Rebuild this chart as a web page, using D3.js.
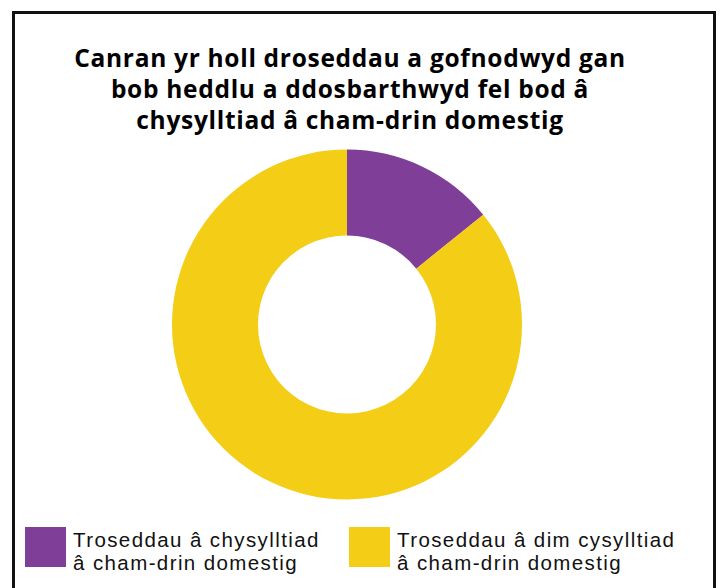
<!DOCTYPE html>
<html><head><meta charset="utf-8">
<script src="https://cdn.jsdelivr.net/npm/d3@7"></script>
<style>body{margin:0;background:#fff}svg{display:block}</style>
</head><body>
<svg id="c" width="720" height="588"></svg>
<script>
const categories = ["Troseddau â chysylltiad â cham-drin domestig", "Troseddau â dim cysylltiad â cham-drin domestig"];
const legendLines = [["Troseddau â chysylltiad", "â cham-drin domestig"], ["Troseddau â dim cysylltiad", "â cham-drin domestig"]];
const values = [14.2, 85.8];
const colors = ["#7f3f98", "#f4cd16"];
const titleLines = ["Canran yr holl droseddau a gofnodwyd gan", "bob heddlu a ddosbarthwyd fel bod â", "chysylltiad â cham-drin domestig"];

const svg = d3.select("#c");
svg.append("path").attr("d", "M13.5,600 V12.5 H714.5 V600")
  .attr("fill", "none").attr("stroke", "#111").attr("stroke-width", 3);

svg.append("g").selectAll("text").data(titleLines).join("text")
  .attr("x", 350).attr("y", (d, i) => 67 + i * 31)
  .attr("text-anchor", "middle").attr("font-family", "Open Sans, sans-serif")
  .attr("font-weight", 700).attr("font-size", 24.5).attr("letter-spacing", 0.7)
  .attr("fill", "#000").text(d => d);

const pie = d3.pie().sort(null).value(d => d)(values);
const arc = d3.arc().innerRadius(89).outerRadius(175);
svg.append("g").attr("transform", "translate(347,324.5)")
  .selectAll("path").data(pie).join("path")
  .attr("d", arc).attr("fill", (d, i) => colors[i]);

const lg = svg.append("g").selectAll("g").data(categories).join("g")
  .attr("transform", (d, i) => `translate(${[25, 349][i]},527)`);
lg.append("rect").attr("width", 41).attr("height", 40).attr("fill", (d, i) => colors[i]);
lg.each(function(d, i) {
  d3.select(this).selectAll("text").data(legendLines[i]).join("text")
    .attr("x", 48).attr("y", (t, j) => 20 + j * 23)
    .attr("font-family", "Liberation Sans, Arial, sans-serif").attr("font-size", 20.5)
    .attr("letter-spacing", 1.4).attr("fill", "#111").text(t => t);
});
</script>
</body></html>
